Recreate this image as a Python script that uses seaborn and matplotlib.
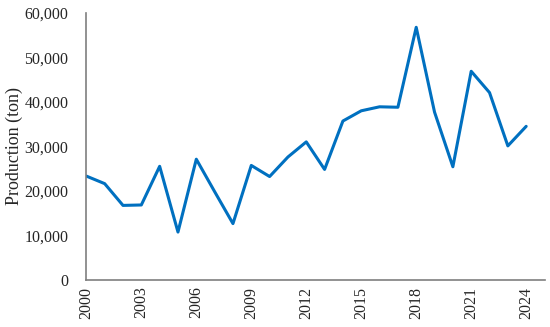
import numpy as np
import pandas as pd
import seaborn as sns
from matplotlib import pyplot as plt
from matplotlib.ticker import FuncFormatter

years = list(range(2000, 2025))
production = [23300, 21600, 16700, 16800, 25500, 10700, 27100, 19800, 12600,
              25700, 23200, 27600, 31000, 24800, 35700, 38000, 38900, 38800,
              56800, 37700, 25400, 46900, 42100, 30100, 34500]

df = pd.DataFrame({"year": years, "production": production})

sns.set_style("white")
plt.rcParams["font.family"] = ["Liberation Serif", "DejaVu Serif"]

fig, ax = plt.subplots(figsize=(5.5, 3.27), dpi=100)
sns.lineplot(data=df, x="year", y="production", color="#0070C0", linewidth=2.2, ax=ax)

ax.set_xlim(2000, 2025)
ax.set_ylim(0, 60000)
ax.set_xticks(range(2000, 2025, 3))
ax.set_yticks(range(0, 60001, 10000))
ax.yaxis.set_major_formatter(FuncFormatter(lambda v, p: "{:,.0f}".format(v)))
ax.tick_params(axis="x", labelrotation=90, labelsize=11.5, length=0, pad=5)
ax.tick_params(axis="y", labelsize=11.5, length=0, pad=13)
ax.set_xlabel("")
ax.set_ylabel("Production (ton)", fontsize=13)
ax.yaxis.set_label_coords(-0.138, 0.5)
sns.despine(ax=ax)
for s in ["left", "bottom"]:
    ax.spines[s].set_color("#7f7f7f")
    ax.spines[s].set_linewidth(1.2)

fig.subplots_adjust(left=0.157, right=0.99, top=0.96, bottom=0.145)
fig.savefig("out.png", dpi=100)
